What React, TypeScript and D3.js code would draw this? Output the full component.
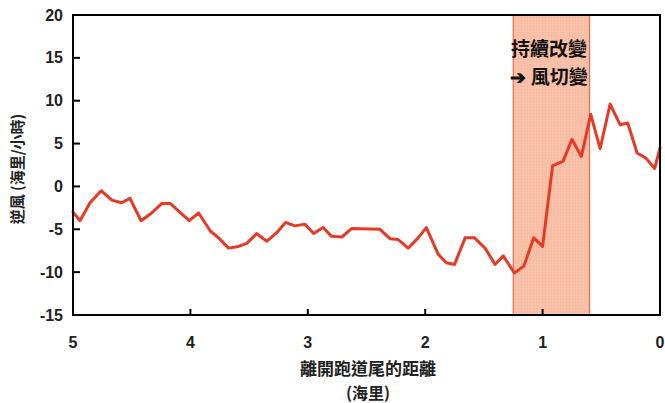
import React from "react";
import * as d3 from "d3";

const distance = [5.0, 4.94, 4.855, 4.76, 4.67, 4.585, 4.515, 4.42, 4.33, 4.245, 4.17, 4.09, 4.01, 3.93, 3.83, 3.76, 3.675, 3.59, 3.52, 3.435, 3.35, 3.265, 3.19, 3.11, 3.025, 2.95, 2.87, 2.8, 2.71, 2.625, 2.385, 2.3, 2.23, 2.145, 2.06, 1.99, 1.89, 1.82, 1.75, 1.66, 1.58, 1.49, 1.405, 1.335, 1.24, 1.16, 1.075, 1.0, 0.915, 0.825, 0.75, 0.67, 0.59, 0.51, 0.425, 0.34, 0.275, 0.195, 0.12, 0.045, 0.0];
const headwind = [-3.0, -4.0, -1.9, -0.5, -1.6, -1.9, -1.4, -4.0, -3.1, -2.0, -2.0, -3.0, -4.0, -3.1, -5.2, -6.0, -7.2, -7.0, -6.65, -5.5, -6.4, -5.4, -4.2, -4.6, -4.4, -5.5, -4.8, -5.8, -5.9, -4.9, -5.0, -6.1, -6.2, -7.2, -6.0, -4.8, -7.9, -8.9, -9.1, -6.0, -6.0, -7.2, -9.1, -8.1, -10.1, -9.3, -6.0, -7.0, 2.4, 2.95, 5.5, 3.5, 8.4, 4.4, 9.6, 7.2, 7.4, 3.9, 3.3, 2.1, 4.5];
const xTicks = [5, 4, 3, 2, 1, 0];
const yTicks = [20, 15, 10, 5, 0, -5, -10, -15];
const band = [1.25, 0.6];
const annotation = ["持續改變", "➔ 風切變"];
const yLabel = "逆風 (海里/小時)";
const xLabel = ["離開跑道尾的距離", "(海里)"];

export default function App() {
  const W = 665, H = 403;
  const left = 73, right = 660, top = 15, bottom = 315;
  const x = d3.scaleLinear().domain([5, 0]).range([left, right]);
  const y = d3.scaleLinear().domain([-15, 20]).range([bottom, top]);
  const pts = distance.map((d, i) => [d, headwind[i]] as [number, number]);
  const line = d3.line<[number, number]>().x(d => x(d[0])).y(d => y(d[1]))(pts) || "";
  const font = "'Liberation Sans', Arial, sans-serif";
  const cjk = "'Noto Sans CJK TC', 'Noto Sans CJK SC', sans-serif";
  return (
    <svg width={W} height={H} style={{ position: "absolute", left: 0, top: 0, background: "#fff" }}>
      <defs>
        <pattern id="grid" width="3" height="3" patternUnits="userSpaceOnUse">
          <rect width="3" height="3" fill="#f8c3aa" />
          <path d="M3 0V3H0" fill="none" stroke="#f3ae96" strokeWidth="0.5" />
        </pattern>
      </defs>
      <rect x={x(band[0])} y={top} width={x(band[1]) - x(band[0])} height={bottom - top} fill="url(#grid)" stroke="#e9694f" strokeWidth={1.2} />
      <path d={line} fill="none" stroke="#e63a25" strokeWidth={3} strokeLinejoin="round" strokeLinecap="round" />
      <rect x={left} y={top} width={right - left} height={bottom - top} fill="none" stroke="#000" strokeWidth={2} />
      {yTicks.map(t => (
        <g key={"y" + t}>
          <line x1={left} x2={left + 7} y1={y(t)} y2={y(t)} stroke="#000" strokeWidth={2} />
          <text x={left - 10} y={y(t)} dy="0.35em" textAnchor="end" fontFamily={font} fontWeight="bold" fontSize={16} fill="#222">{t}</text>
        </g>
      ))}
      {xTicks.map(t => (
        <g key={"x" + t}>
          <line x1={x(t)} x2={x(t)} y1={bottom} y2={bottom - 6} stroke="#000" strokeWidth={2} />
          <text x={x(t)} y={342} dy="0.35em" textAnchor="middle" fontFamily={font} fontWeight="bold" fontSize={16} fill="#222">{t}</text>
        </g>
      ))}
      <text transform={`translate(18,169) rotate(-90)`} textAnchor="middle" dy="0.35em" fontFamily={cjk} fontWeight="bold" fontSize={15} fill="#222">{yLabel}</text>
      <text x={368} y={369} dy="0.35em" textAnchor="middle" fontFamily={cjk} fontWeight="bold" fontSize={17} fill="#222">{xLabel[0]}</text>
      <text x={368} y={393} dy="0.35em" textAnchor="middle" fontFamily={cjk} fontWeight="bold" fontSize={16} fill="#222">{xLabel[1]}</text>
      <text x={549} y={49} dy="0.35em" textAnchor="middle" fontFamily={cjk} fontWeight="bold" fontSize={19} fill="#111">{annotation[0]}</text>
      <text x={549} y={77} dy="0.35em" textAnchor="middle" fontFamily={cjk} fontWeight="bold" fontSize={19} fill="#111">{annotation[1]}</text>
    </svg>
  );
}
